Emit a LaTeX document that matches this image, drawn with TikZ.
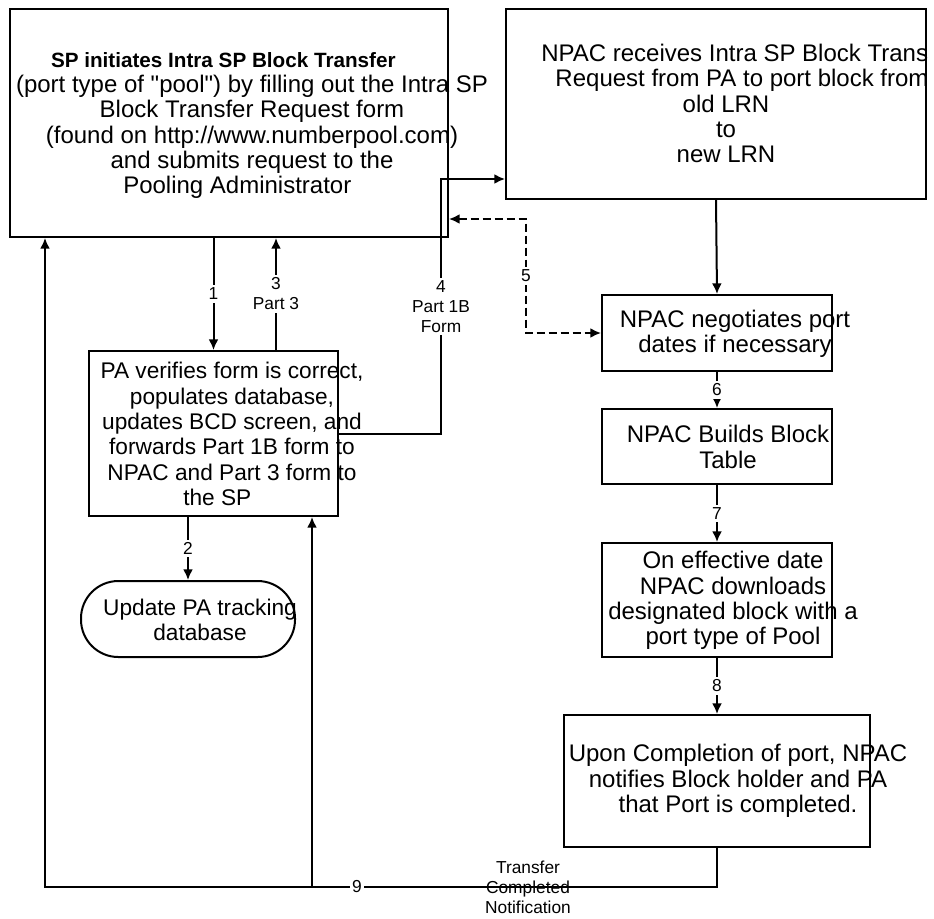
\documentclass[tikz,border=0pt]{standalone}
\usepackage{fontspec}
\setmainfont{Liberation Sans}[Ligatures=TeXOff]
\usetikzlibrary{arrows.meta}

\begin{document}
\begin{tikzpicture}[x=0.75pt,y=0.75pt,yscale=-1,
  box/.style={draw,line width=1.5pt,inner sep=0pt},
  txt/.style={align=center,inner sep=0pt,font=\fontsize{18}{19}\selectfont},
  txtsm/.style={align=center,inner sep=0pt,font=\fontsize{17}{19}\selectfont},
  note/.style={align=center,inner sep=0pt,font=\fontsize{13}{15}\selectfont},
  lbl/.style={fill=white,align=center,inner sep=2pt,font=\fontsize{13}{15}\selectfont},
  arr/.style={line width=1.5pt,-{Latex[length=8pt,width=7.5pt]}},
  darr/.style={line width=1.5pt,dash pattern=on 6pt off 3pt,{Latex[length=8pt,width=7.5pt]}-{Latex[length=8pt,width=7.5pt]}}]
\useasboundingbox (0,0) rectangle (934,918);

%Shape: Rectangle
\node[box,minimum width=328.5pt,minimum height=171pt] (spbox) at (229,123) {};
%Shape: Rectangle
\node[box,minimum width=315pt,minimum height=142.5pt] (rcvbox) at (716,104) {};
%Shape: Rectangle
\node[box,minimum width=186.75pt,minimum height=123.75pt] (pabox) at (213.5,433.5) {};
%Shape: Rectangle
\node[box,minimum width=172.5pt,minimum height=57pt] (negbox) at (717,333) {};
%Shape: Rectangle
\node[box,minimum width=172.5pt,minimum height=56.25pt] (bldbox) at (717,446.5) {};
%Shape: Rectangle
\node[box,minimum width=172.5pt,minimum height=85.5pt] (effbox) at (717,600) {};
%Shape: Rectangle
\node[box,minimum width=229.5pt,minimum height=99pt] (donebox) at (717,781) {};
%Shape: Terminal
\node[box,rounded corners=28pt,minimum width=160.5pt,minimum height=57pt] (trkbox) at (188,619) {};

% Text Node
\node[txt] (sptxt) at (252,125.5) {{\fontsize{15.5}{19}\selectfont\bfseries SP initiates Intra SP Block Transfer}\hspace*{43pt}\\(port type of "pool") by filling out the Intra SP\\Block Transfer Request form\\(found on http://www.numberpool.com)\\and submits request to the\\Pooling Administrator\hspace*{22pt}};
% Text Node
\node[txt] (rcvtxt) at (726,103.5) {\hspace*{13pt}NPAC receives Intra SP Block Trans\\\hspace*{24pt}Request from PA to port block from\\old LRN\\to\\new LRN};
% Text Node
\node[txtsm] (patxt) at (232,434) {PA verifies form is correct,\\populates database,\\updates BCD screen, and\\forwards Part 1B form to\\NPAC and Part 3 form to\\the SP\hspace*{22pt}};
% Text Node
\node[txt] (negtxt) at (735,334) {NPAC negotiates port\\dates if necessary};
% Text Node
\node[txt] (bldtxt) at (728,447) {NPAC Builds Block\\Table};
% Text Node
\node[txt] (efftxt) at (733,600.5) {On effective date\\NPAC downloads\\designated block with a\\port type of Pool};
% Text Node
\node[txt] (donetxt) at (738,781) {Upon Completion of port, NPAC\\notifies Block holder and PA\\that Port is completed.};
% Text Node
\node[txtsm] (trktxt) at (200,620) {Update PA tracking\\database};

%Straight Lines
\draw[arr] (pabox.north |- spbox.south) -- node[lbl] (l1) {1} (pabox.north);
\draw[arr] (276,0 |- pabox.north) -- node[lbl] (l3) {3\\Part 3} (276,0 |- spbox.south);
\coordinate (c4) at (441,179);
\draw[arr] (pabox.east) -| node[lbl,pos=0.75] (l4) {4\\Part 1B\\Form} (c4) -- (c4 -| rcvbox.west);
\coordinate (c5a) at (526,219);
\coordinate (c5b) at (526,333);
\draw[darr] (c5a -| spbox.east) -- (c5a) -- node[lbl] (l5) {5} (c5b) -- (negbox.west);
\draw[arr] (trkbox.north |- pabox.south) -- node[lbl] (l2) {2} (trkbox.north);
\draw[arr] (rcvbox.south) -- (negbox.north);
\draw[arr] (negbox.south) -- node[lbl] (l6) {6} (bldbox.north);
\draw[arr] (bldbox.south) -- node[lbl] (l7) {7} (effbox.north);
\draw[arr] (effbox.south) -- node[lbl] (l8) {8} (donebox.north);
% Text Node
\node[note] (tcn) at (528,887) {Transfer\\Completed\\Notification};
\coordinate (c9) at (45,887);
\coordinate (c9b) at (312,887);
\draw[arr] (donebox.south) |- (c9) -- (c9 |- spbox.south);
\draw[arr] (c9b) -- (c9b |- pabox.south);
\node[lbl] (l9) at (357,887) {9};

\end{tikzpicture}
\end{document}
